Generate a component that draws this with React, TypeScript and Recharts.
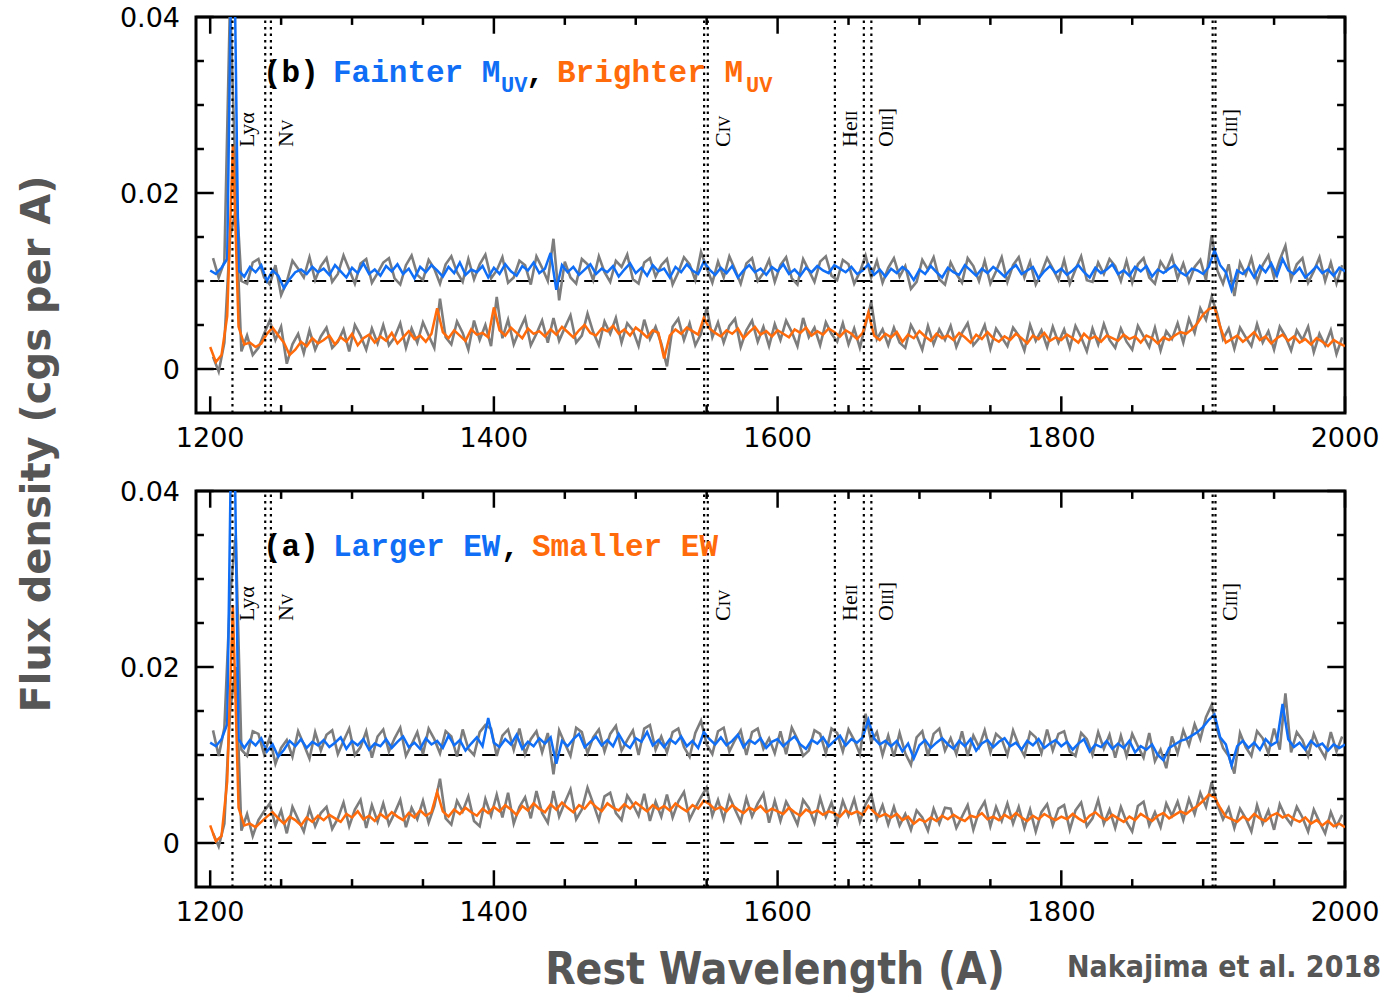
import React from "react";
import { LineChart, Line, XAxis, YAxis, ReferenceLine, ReferenceArea } from "recharts";

// spectra sampled every 4 A from 1200 A; grey (noisier) spectra sit 2 A in between
const WAVE_START = 1200;
const WAVE_STEP = 4;
const FLUX_UNIT = 1e-4; // values below are in 1e-4 cgs per A

// (b) fainter M_UV (blue) and its noisy spectrum (grey)
const fainterBlue = [
  112, 108, 115, 125, 600, 112, 105, 116, 110, 118,
  100, 112, 106, 92, 102, 110, 113, 108, 116, 110,
  114, 107, 118, 111, 104, 115, 109, 120, 108, 113,
  106, 117, 111, 119, 108, 114, 103, 116, 110, 118,
  112, 105, 116, 109, 121, 107, 113, 110, 117, 104,
  115, 108, 119, 111, 106, 117, 112, 121, 109, 114,
  132, 90, 118, 110, 116, 107, 113, 119, 108, 114,
  110, 117, 105, 113, 120, 109, 115, 106, 118, 111,
  114, 104, 116, 110, 119, 112, 108, 122, 113, 107,
  115, 109, 117, 104, 112, 118, 110, 114, 107, 116,
  111, 119, 108, 113, 106, 115, 110, 117, 112, 109,
  118, 114, 110, 116, 108, 112, 119, 107, 113, 105,
  114, 109, 116, 111, 101, 113, 108, 117, 110, 104,
  115, 110, 107, 118, 112, 106, 114, 109, 116, 111,
  105, 113, 118, 108, 112, 116, 103, 111, 117, 109,
  114, 107, 112, 118, 110, 104, 115, 109, 113, 119,
  108, 112, 106, 116, 111, 117, 105, 113, 109, 114,
  118, 110, 106, 114, 112, 108, 116, 135, 118, 110,
  90, 112, 108, 115, 104, 117, 110, 120, 106, 125,
  112, 108, 115, 104, 110, 117, 109, 113, 106, 115,
  111,
];
const fainterGrey = [
  126, 104, 122, 420, 210, 100, 97, 121, 125, 104,
  96, 118, 84, 99, 123, 114, 104, 127, 101, 117,
  126, 99, 108, 129, 113, 97, 120, 125, 98, 109,
  121, 126, 103, 96, 118, 129, 107, 101, 124, 114,
  97, 119, 128, 110, 99, 125, 102, 119, 130, 103,
  112, 127, 98, 104, 123, 118, 96, 128, 115, 100,
  148, 78, 122, 104, 97, 125, 119, 101, 128, 110,
  99, 123, 116, 130, 102, 97, 121, 126, 105, 118,
  125, 96, 110, 127, 119, 101, 133, 115, 98, 122,
  104, 128, 113, 97, 120, 126, 100, 109, 124, 99,
  118, 127, 103, 96, 125, 112, 99, 122, 128, 106,
  101, 124, 119, 97, 110, 129, 104, 123, 98, 115,
  126, 105, 117, 91, 99, 124, 113, 127, 102, 96,
  121, 108, 98, 126, 117, 100, 123, 97, 111, 127,
  99, 118, 127, 104, 122, 96, 109, 126, 114, 101,
  124, 97, 113, 128, 101, 99, 121, 108, 125, 117,
  100, 123, 98, 119, 126, 104, 97, 122, 112, 128,
  103, 120, 99, 116, 124, 101, 152, 112, 97, 119,
  83, 121, 107, 126, 99, 118, 129, 104, 124, 140,
  102, 119, 126, 98, 111, 127, 100, 121, 97, 118,
];

// (b) brighter M_UV (orange) and its noisy spectrum (grey)
const brighterOrange = [
  25, 8, 16, 60, 255, 48, 28, 30, 25, 29,
  40, 47, 38, 30, 16, 22, 31, 26, 35, 29,
  33, 38, 28, 36, 31, 40, 27, 35, 39, 30,
  37, 32, 41, 29, 36, 43, 34, 38, 31, 40,
  69, 42, 35, 44, 38, 32, 45, 39, 41, 36,
  70, 44, 38, 47, 41, 35, 46, 40, 43, 37,
  45, 39, 48, 42, 36, 44, 50, 41, 38, 46,
  43, 49, 40, 45, 38, 47, 42, 36, 44, 41,
  12, 38, 45, 40, 47, 43, 39, 58, 46, 41,
  37, 44, 40, 46, 35, 42, 48, 39, 43, 37,
  44, 40, 36, 45, 41, 47, 38, 43, 39, 46,
  42, 37, 44, 40, 34, 41, 64, 38, 33, 40,
  36, 42, 31, 39, 35, 43, 37, 32, 40, 35,
  38, 33, 41, 36, 30, 39, 34, 42, 35, 31,
  37, 33, 40, 35, 29, 38, 34, 41, 32, 36,
  33, 39, 35, 30, 40, 34, 37, 31, 38, 35,
  32, 39, 34, 37, 30, 38, 35, 29, 36, 33,
  38, 42, 40, 45, 52, 62, 68, 70, 48, 30,
  34, 38, 31, 36, 42, 33, 37, 29, 35, 39,
  32, 37, 30, 34, 28, 35, 31, 26, 33, 29,
  26,
];
const brighterGrey = [
  14, -3, 30, 150, 180, 20, 38, 16, 24, 40,
  55, 33, 48, 6, 28, 40, 18, 44, 22, 37,
  47, 24, 31, 45, 20, 50, 38, 22, 46, 29,
  50, 27, 36, 52, 24, 46, 30, 53, 38, 24,
  80, 36, 28, 54, 41, 22, 55, 33, 50, 26,
  82, 35, 56, 28, 44, 58, 27, 40, 55, 30,
  58, 32, 47, 61, 30, 38, 63, 42, 27, 54,
  40, 58, 30, 52, 44, 26, 56, 34, 48, 29,
  3, 48, 57, 33, 52, 27, 40, 70, 36, 53,
  30, 49, 57, 25, 44, 55, 31, 48, 26, 51,
  33, 55, 42, 26, 58, 36, 47, 27, 53, 40,
  31, 52, 28, 46, 24, 50, 76, 34, 45, 27,
  47, 30, 24, 50, 38, 22, 49, 28, 45, 33,
  49, 25, 41, 52, 27, 35, 50, 23, 46, 36,
  26, 47, 38, 21, 50, 32, 44, 25, 48, 30,
  45, 24, 49, 36, 20, 46, 28, 51, 33, 24,
  46, 31, 22, 49, 37, 25, 47, 21, 43, 34,
  52, 30, 57, 41, 69, 56, 82, 62, 34, 46,
  23, 47, 36, 26, 51, 30, 43, 22, 48, 37,
  21, 44, 33, 48, 19, 40, 27, 44, 17, 36,
];

// (a) larger EW (blue) and its noisy spectrum (grey)
const largerBlue = [
  114, 110, 118, 135, 600, 118, 108, 117, 111, 119,
  104, 112, 98, 106, 116, 110, 118, 108, 115, 111,
  117, 109, 114, 120, 107, 116, 111, 118, 106, 113,
  110, 118, 108, 115, 121, 109, 114, 107, 119, 112,
  116, 108, 122, 111, 117, 105, 113, 120, 110, 142,
  114, 109, 118, 112, 123, 107, 115, 110, 119, 113,
  120, 90, 116, 110, 118, 124, 109, 115, 121, 111,
  117, 110, 124, 113, 108, 119, 115, 126, 111, 117,
  109, 118, 113, 121, 110, 116, 108, 126, 118, 112,
  120, 111, 116, 123, 109, 117, 113, 119, 108, 115,
  118, 110, 116, 121, 112, 107, 117, 113, 120, 110,
  116, 122, 111, 118, 114, 120, 140, 119, 112, 116,
  110, 116, 104, 113, 96, 111, 117, 108, 114, 119,
  112, 107, 116, 110, 118, 105, 113, 117, 109, 115,
  119, 110, 114, 106, 116, 111, 118, 108, 113, 117,
  110, 115, 106, 113, 118, 104, 112, 109, 116, 107,
  113, 108, 116, 103, 110, 106, 112, 100, 94, 108,
  112, 116, 118, 122, 126, 132, 140, 146, 120, 112,
  88, 110, 116, 108, 114, 106, 118, 111, 115, 158,
  118, 109, 114, 106, 116, 110, 113, 105, 112, 108,
  112,
];
const largerGrey = [
  128, 99, 131, 280, 350, 106, 99, 127, 124, 101,
  120, 90, 108, 117, 98, 127, 112, 96, 126, 105,
  123, 128, 101, 116, 130, 100, 109, 127, 97, 121,
  129, 104, 119, 131, 99, 112, 126, 101, 130, 118,
  102, 127, 121, 98, 129, 107, 100, 126, 134, 130,
  99, 122, 129, 106, 130, 101, 118, 127, 103, 125,
  78, 128, 113, 99, 131, 126, 102, 120, 129, 104,
  124, 133, 105, 117, 128, 100, 130, 134, 106, 121,
  103, 126, 130, 109, 98, 125, 139, 112, 101, 127,
  131, 104, 117, 128, 100, 126, 130, 107, 119, 102,
  127, 101, 131, 118, 99, 105, 128, 124, 102, 130,
  125, 104, 129, 117, 101, 147, 115, 126, 100, 122,
  98, 125, 102, 89, 120, 127, 99, 124, 130, 105,
  119, 101, 127, 99, 122, 109, 128, 103, 124, 118,
  100, 128, 111, 99, 126, 120, 102, 129, 105, 124,
  127, 104, 99, 125, 118, 100, 126, 107, 123, 97,
  122, 99, 124, 110, 97, 125, 93, 106, 85, 121,
  102, 128, 111, 135, 118, 143, 157, 128, 108, 99,
  79, 125, 109, 99, 127, 119, 102, 130, 106, 170,
  103, 126, 117, 99, 124, 108, 97, 126, 104, 121,
];

// (a) smaller EW (orange) and its noisy spectrum (grey)
const smallerOrange = [
  20, 2, 8, 70, 270, 40, 20, 22, 18, 24,
  30, 35, 28, 22, 30, 26, 20, 29, 24, 31,
  26, 32, 28, 24, 33, 29, 36, 27, 31, 25,
  33, 28, 35, 30, 26, 34, 29, 37, 31, 35,
  58, 36, 30, 38, 33, 40, 35, 31, 39, 34,
  41, 36, 43, 38, 32, 42, 37, 45, 39, 35,
  44, 38, 46, 40, 35, 43, 39, 47, 41, 36,
  45, 40, 37, 44, 39, 46, 41, 36, 43, 38,
  42, 37, 45, 40, 36, 43, 39, 48, 44, 38,
  41, 36, 43, 38, 34, 40, 37, 42, 35, 39,
  36, 33, 40, 35, 31, 38, 34, 37, 32, 36,
  34, 30, 37, 33, 36, 32, 42, 35, 30, 33,
  29, 33, 26, 30, 22, 27, 24, 29, 25, 31,
  27, 32, 28, 25, 31, 29, 34, 27, 30, 26,
  32, 28, 34, 29, 25, 31, 27, 33, 29, 26,
  30, 27, 33, 28, 24, 31, 35, 29, 26, 32,
  28, 24, 30, 26, 33, 29, 25, 31, 34, 28,
  32, 36, 33, 38, 42, 48, 55, 52, 40, 30,
  27, 24, 30, 26, 33, 28, 25, 31, 34, 29,
  32, 27, 24, 29, 22, 26, 20, 25, 19, 22,
  18,
];
const smallerGrey = [
  11, -4, 22, 150, 200, 14, 33, 8, 26, 36,
  45, 20, 37, 11, 41, 27, 13, 39, 19, 34,
  41, 16, 28, 46, 19, 38, 49, 17, 43, 24,
  45, 21, 34, 49, 18, 40, 27, 48, 23, 42,
  73, 28, 21, 48, 36, 53, 25, 19, 50, 31,
  55, 29, 57, 22, 41, 52, 28, 59, 34, 23,
  59, 30, 46, 61, 27, 38, 63, 45, 26, 53,
  57, 34, 26, 54, 44, 31, 56, 25, 47, 30,
  55, 29, 47, 58, 27, 40, 52, 63, 31, 49,
  27, 53, 38, 24, 51, 30, 45, 56, 23, 48,
  25, 47, 35, 21, 49, 40, 23, 51, 30, 46,
  23, 48, 31, 50, 24, 44, 55, 27, 43, 21,
  41, 20, 33, 15, 37, 29, 14, 39, 22, 40,
  39, 17, 30, 43, 15, 36, 47, 19, 41, 25,
  45, 22, 41, 17, 38, 13, 35, 44, 20, 39,
  43, 15, 37, 46, 19, 28, 49, 22, 38, 17,
  41, 24, 13, 42, 47, 20, 35, 18, 45, 31,
  47, 26, 50, 33, 57, 41, 69, 44, 27, 40,
  17, 39, 28, 13, 43, 22, 37, 15, 44, 30,
  21, 41, 29, 13, 38, 24, 11, 35, 19, 32,
];

const X_DOMAIN: [number, number] = [1190, 2000];
const Y_DOMAIN: [number, number] = [-0.005, 0.04];
const X_MAJOR = [1200, 1400, 1600, 1800, 2000];
const X_MINOR = [1250, 1300, 1350, 1450, 1500, 1550, 1650, 1700, 1750, 1850, 1900, 1950];
const Y_MAJOR = [0, 0.02, 0.04];
const Y_MINOR = [0.005, 0.01, 0.015, 0.025, 0.03, 0.035];
const BASELINES = [0, 0.01];

// emission line positions (A) and their tags
const LINE_MARKS = [1215.7, 1238.8, 1242.8, 1548.2, 1550.8, 1640.4, 1660.8, 1666.1, 1906.7, 1908.7];
const LINE_TAGS = [
  { at: 1215.7, main: "Lyα", small: "", tail: "" },
  { at: 1242.8, main: "N", small: "V", tail: "" },
  { at: 1550.8, main: "C", small: "IV", tail: "" },
  { at: 1640.4, main: "He", small: "II", tail: "" },
  { at: 1666.1, main: "O", small: "III", tail: "]" },
  { at: 1908.7, main: "C", small: "III", tail: "]" },
];

const BLUE = "#0f6ef5";
const ORANGE = "#ff6a0a";
const GREY = "#7d7d7d";
const TITLE_GREY = "#565656";
const SANS = "'DejaVu Sans', Verdana, sans-serif";
const COND = "'DejaVu Sans Condensed', 'DejaVu Sans', sans-serif";
const MONO = "'Liberation Mono', 'DejaVu Sans Mono', monospace";
const SERIF = "'Liberation Serif', 'DejaVu Serif', serif";

const toSeries = (vals: number[], offset: number) =>
  vals.map((v, i) => ({ wave: WAVE_START + offset + i * WAVE_STEP, flux: v * FLUX_UNIT }));

function LineTag(props: any) {
  const vb = props.viewBox;
  const t = props.tag;
  if (!vb) return null;
  const x = vb.x + 22;
  const y = vb.y + 130;
  return (
    <text transform={`translate(${x},${y}) rotate(-90)`} fontFamily={SERIF} fontSize={22} fill="#000">
      {t.main}
      {t.small ? <tspan fontSize={16}>{t.small}</tspan> : null}
      {t.tail}
    </text>
  );
}

const fmtY = (v: number) => (v === 0 ? "0" : v.toFixed(2));

function Panel({ top, upperGrey, upper, lowerGrey, lower }: any) {
  const [x0, x1] = X_DOMAIN;
  const [y0, y1] = Y_DOMAIN;
  const tickStyle = { fill: "#000", fontSize: 27, fontFamily: SANS };
  return (
    <div style={{ position: "absolute", left: 0, top }}>
      <LineChart width={1384} height={470} margin={{ top: 17, right: 39, bottom: 0, left: 0 }}>
        <XAxis type="number" dataKey="wave" domain={X_DOMAIN} allowDataOverflow ticks={X_MAJOR} interval={0}
          tickLine={false} axisLine={false} tickSize={0} tickMargin={15} height={57} tick={tickStyle} />
        <YAxis type="number" domain={Y_DOMAIN} allowDataOverflow ticks={Y_MAJOR} interval={0} tickFormatter={fmtY}
          tickLine={false} axisLine={false} tickSize={0} tickMargin={16} width={196} tick={tickStyle} />

        {BASELINES.map((b) => (
          <ReferenceLine key={"b" + b} segment={[{ x: 1200, y: b }, { x: 2000, y: b }]}
            stroke="#000" strokeWidth={2} strokeDasharray="14 20" />
        ))}

        <Line data={upperGrey} dataKey="flux" type="linear" stroke={GREY} strokeWidth={2.6} dot={false} isAnimationActive={false} />
        <Line data={lowerGrey} dataKey="flux" type="linear" stroke={GREY} strokeWidth={2.6} dot={false} isAnimationActive={false} />
        <Line data={upper} dataKey="flux" type="linear" stroke={BLUE} strokeWidth={2.5} dot={false} isAnimationActive={false} />
        <Line data={lower} dataKey="flux" type="linear" stroke={ORANGE} strokeWidth={2.5} dot={false} isAnimationActive={false} />

        {LINE_MARKS.map((m) => (
          <ReferenceLine key={"m" + m} x={m} stroke="#000" strokeWidth={2.2} strokeDasharray="2.5 4" />
        ))}
        {LINE_TAGS.map((t) => (
          <ReferenceLine key={"t" + t.at} x={t.at} stroke="none" label={<LineTag tag={t} />} />
        ))}

        {[...X_MAJOR.map((t) => [t, 0.0019]), ...X_MINOR.map((t) => [t, 0.0009])].map(([t, len]) => (
          <React.Fragment key={"xt" + t}>
            <ReferenceLine segment={[{ x: t, y: y0 }, { x: t, y: y0 + len }]} stroke="#000" strokeWidth={2.5} />
            <ReferenceLine segment={[{ x: t, y: y1 }, { x: t, y: y1 - len }]} stroke="#000" strokeWidth={2.5} />
          </React.Fragment>
        ))}
        {[...Y_MAJOR.map((t) => [t, 12.5]), ...Y_MINOR.map((t) => [t, 5.6])].map(([t, len]) => (
          <React.Fragment key={"yt" + t}>
            <ReferenceLine segment={[{ x: x0, y: t }, { x: x0 + len, y: t }]} stroke="#000" strokeWidth={2.5} />
            <ReferenceLine segment={[{ x: x1, y: t }, { x: x1 - len, y: t }]} stroke="#000" strokeWidth={2.5} />
          </React.Fragment>
        ))}

        <ReferenceArea x1={x0} x2={x1} y1={y0} y2={y1} fill="none" fillOpacity={0} stroke="#000" strokeWidth={3} />
      </LineChart>
    </div>
  );
}

function PanelKey({ top, tag, first, second }: any) {
  const y = top + 82;
  return (
    <g fontFamily={MONO} fontWeight="bold" fontSize={31}>
      <text x={263} y={y} fill="#000">{tag}</text>
      <text x={333} y={y} fill={BLUE}>{first.text}</text>
      {first.sub ? <text x={501} y={y + 10} fill={BLUE} fontSize={22}>{first.sub}</text> : null}
      <text x={first.sub ? 526 : 501} y={y} fill="#000">,</text>
      <text x={first.sub ? 557 : 532} y={y} fill={ORANGE}>{second.text}</text>
      {second.sub ? <text x={746} y={y + 10} fill={ORANGE} fontSize={22}>{second.sub}</text> : null}
    </g>
  );
}

export default function App() {
  return (
    <div style={{ position: "absolute", left: 0, top: 0, width: 1384, height: 996, background: "#fff", overflow: "hidden" }}>
      <Panel top={0}
        upperGrey={toSeries(fainterGrey, 2)} upper={toSeries(fainterBlue, 0)}
        lowerGrey={toSeries(brighterGrey, 2)} lower={toSeries(brighterOrange, 0)} />
      <Panel top={474}
        upperGrey={toSeries(largerGrey, 2)} upper={toSeries(largerBlue, 0)}
        lowerGrey={toSeries(smallerGrey, 2)} lower={toSeries(smallerOrange, 0)} />
      <svg width={1384} height={996} style={{ position: "absolute", left: 0, top: 0, pointerEvents: "none" }}>
        <PanelKey top={0} tag="(b)" first={{ text: "Fainter M", sub: "UV" }} second={{ text: "Brighter M", sub: "UV" }} />
        <PanelKey top={474} tag="(a)" first={{ text: "Larger EW", sub: "" }} second={{ text: "Smaller EW", sub: "" }} />
        <text transform="translate(50,444) rotate(-90)" textAnchor="middle" fontFamily={SANS} fontWeight="bold"
          fontSize={40} fill={TITLE_GREY}>Flux density (cgs per A)</text>
        <text x={775} y={984} textAnchor="middle" fontFamily={COND} fontWeight="bold" fontSize={44}
          fill={TITLE_GREY}>Rest Wavelength (A)</text>
        <text x={1381} y={977} textAnchor="end" fontFamily={COND} fontWeight="bold" fontSize={30}
          fill={TITLE_GREY}>Nakajima et al. 2018</text>
      </svg>
    </div>
  );
}
